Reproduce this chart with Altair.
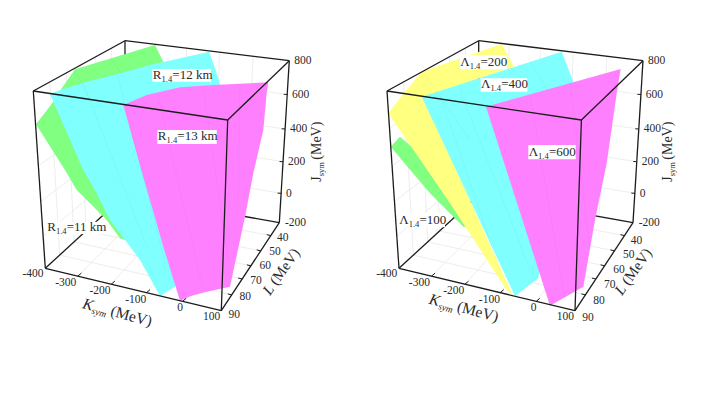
import math
import altair as alt
import pandas as pd

# --- picture-space corners of the 3D box (left panel); the right panel is the same box shifted
DX = 353.7
TB = (125, 40.7); TL = (33.3, 91); TF = (227.7, 120); TR = (289.3, 60.7)
BB = (125, 195); BL = (45.3, 268.3); BF = (221.3, 310.7); BR = (279.3, 222.7)

k_ticks = ["-400", "-300", "-200", "-100", "0", "100"]
k_frac = [0, 0.185, 0.375, 0.575, 0.78, 1]
k_label_x = [33, 65.7, 100, 135.7, 180, 211.7]
k_label_y = [273.5, 283, 291, 299.5, 308, 316.5]

l_ticks = ["40", "50", "60", "70", "80", "90"]
l_frac = [0.147, 0.32, 0.49, 0.64, 0.82, 1]
l_label_x = [282.7, 275, 265.3, 256, 245.3, 234.3]
l_label_y_left = [238.3, 252, 266.3, 281, 297.3, 315]
l_label_y_right = [240.7, 255, 269.7, 284.7, 301, 318.3]

j_ticks = ["800", "600", "400", "200", "0", "-200"]
j_tick_y = [60.7, 94.5, 129, 161.7, 193.3, 222.7]
j_label_x = [294.3, 292, 290, 288, 286, 285]

# --- bands
left_green = [(155, 45), (163.3, 61.7), (90, 100), (125, 240), (120, 238.3), (106.7, 220), (90, 203.3),
              (76.7, 190), (65, 170), (36, 124.3), (53.3, 101.7), (60, 90.7), (75, 69.3)]
left_cyan = [(209.3, 51.7), (220, 83.3), (175, 286.7), (160, 296), (140, 260), (110, 220), (96.7, 193.3),
             (83.3, 170), (50, 94), (60, 90), (86.7, 81.7), (113.3, 75), (150, 65)]
left_magenta = [(123.3, 105), (146.7, 95), (180, 87.3), (213.3, 85), (268.3, 82.3), (266.7, 93.3),
                (263.3, 130), (253.3, 173.3), (245, 216.7), (230, 286.7), (206.7, 291.7), (191.7, 295.7),
                (180, 300.7), (163.3, 246.7), (143.3, 176.7)]
right_green = [(400, 136.7), (390.7, 146.7), (430, 193.3), (463.3, 226.7), (483.3, 230), (450, 180)]
right_yellow = [(501.7, 44), (514, 66.7), (423.3, 96.7), (513.3, 296.7), (506.7, 290), (450, 203.3),
                (388.3, 113.3), (405, 91.7), (421.7, 71.7)]
right_cyan = [(561.7, 51.7), (573.3, 81.7), (538.3, 278.3), (515, 296), (421.7, 96.7)]
right_magenta = [(486, 106.7), (620.7, 69), (616.7, 93.3), (606.7, 163.3), (595, 220), (583.3, 286.7), (550, 305.7)]

bands = [(left_green, "#80ff80"), (left_cyan, "#80ffff"), (left_magenta, "#ff80ff"),
         (right_green, "#80ff80"), (right_yellow, "#ffff80"), (right_cyan, "#80ffff"), (right_magenta, "#ff80ff")]

# --- faint mesh lines on the bands: (x1, y1, x2, y2)
mesh = [(83, 83, 147, 247), (117, 73, 167, 270), (158, 95, 203, 290), (203, 86, 228, 260), (240, 84, 238, 220),
        (440, 95, 500, 270), (460, 90, 530, 270), (530, 95, 565, 300), (570, 82, 590, 250),
        (425, 75, 470, 140), (528, 58, 548, 90), (75, 70, 90, 100), (110, 58, 125, 78)]

# --- labels: (x, y, main, sub, tail); (x, y) is the baseline start
labels_left = [(152.8, 79, "R", "1.4", "=12 km"), (157.8, 140, "R", "1.4", "=13 km"), (47.2, 231, "R", "1.4", "=11 km")]
labels_right = [(460.3, 65.5, "Λ", "1.4", "=200"), (481, 88, "Λ", "1.4", "=400"), (528.7, 155.5, "Λ", "1.4", "=600"),
                (399.3, 223.5, "Λ", "1.4", "=100")]
label_boxes = [(152.3, 211, 69, 81.7), (157.3, 216.7, 130, 144), (46.7, 106, 221.7, 234),
               (460, 506.7, 55, 69.3), (480.7, 527.3, 78.3, 91.7), (528.3, 575.7, 145, 159.3), (399, 445, 212.7, 227.3)]


def lerp(a, b, t):
    return (a[0] + (b[0] - a[0]) * t, a[1] + (b[1] - a[1]) * t)


X = alt.X("x:Q", scale=alt.Scale(domain=[8, 698]), axis=None)
Y = alt.Y("y:Q", scale=alt.Scale(domain=[389, 8]), axis=None)


def seg_layer(segs, color, width, opacity=1.0):
    df = pd.DataFrame(segs, columns=["x", "y", "x2", "y2"])
    return alt.Chart(df).mark_rule(color=color, strokeWidth=width, opacity=opacity).encode(
        x=X, y=Y, x2="x2:Q", y2="y2:Q")


def panel_segments(dx):
    def S(a, b):
        return (a[0] + dx, a[1], b[0] + dx, b[1])
    grid = []
    j_frac = [(y - BR[1]) / (TR[1] - BR[1]) for y in j_tick_y]
    for t in k_frac[1:-1]:
        p = lerp(BB, BR, t)
        grid.append(S(lerp(BL, BF, t), p))
        grid.append(S(p, lerp(TB, TR, t)))
    for s in l_frac[:-1]:
        p = lerp(BB, BL, s)
        grid.append(S(lerp(BR, BF, s), p))
        grid.append(S(p, lerp(TB, TL, s)))
    for u in j_frac[1:-1]:
        p = lerp(BB, TB, u)
        grid.append(S(lerp(BR, TR, u), p))
        grid.append(S(p, lerp(BL, TL, u)))
    back = [S(BL, BB), S(BB, BR), S(BB, TB)]
    front = [S(TL, TB), S(TB, TR), S(TR, TF), S(TF, TL), S(TL, BL), S(TF, BF), S(TR, BR), S(BL, BF), S(BF, BR)]
    ticks = []
    for t in k_frac[1:-1]:
        p = lerp(BL, BF, t)
        ticks.append(S(p, (p[0] + 3.5, p[1] - 3)))
    for s in l_frac[:-1]:
        p = lerp(BR, BF, s)
        ticks.append(S(p, (p[0] - 4, p[1] - 1)))
    for u in j_frac[1:-1]:
        p = lerp(BR, TR, u)
        ticks.append(S(p, (p[0] - 3.5, p[1] - 0.2)))
    return grid, back, front, ticks


grid, back, front, ticks = [], [], [], []
for d in (0, DX):
    g, b, f, t = panel_segments(d)
    grid += g; back += b; front += f; ticks += t

layers = [seg_layer(grid, "#e9e9e9", 0.8), seg_layer(back, "#1c1c1c", 1.3)]

for i, (pts, col) in enumerate(bands):
    df = pd.DataFrame({"x": [p[0] for p in pts] + [pts[0][0]], "y": [p[1] for p in pts] + [pts[0][1]],
                       "o": list(range(len(pts) + 1))})
    layers.append(alt.Chart(df).mark_line(fill=col, strokeWidth=0, color=col).encode(
        x=X, y=Y, order="o:Q"))

layers.append(seg_layer(mesh, "#000000", 0.7, 0.05))
layers.append(seg_layer(front, "#1c1c1c", 1.3))
layers.append(seg_layer(ticks, "#1c1c1c", 1.0))

box_df = pd.DataFrame(label_boxes, columns=["x", "x2", "y", "y2"])
layers.append(alt.Chart(box_df).mark_rect(color="white").encode(x=X, x2="x2:Q", y=Y, y2="y2:Q"))

FONT = "Liberation Serif"
INK = "#2a2a2a"


def text_layer(rows, align="left", baseline="alphabetic", style="normal"):
    df = pd.DataFrame(rows, columns=["x", "y", "t", "s", "a"])
    return alt.Chart(df).mark_text(font=FONT, color=INK, align=align, baseline=baseline, fontStyle=style).encode(
        x=X, y=Y, text="t:N", size=alt.Size("s:Q", scale=None), angle=alt.Angle("a:Q", scale=None))


tick_center, tick_left = [], []
for d, l_y in ((0, l_label_y_left), (DX, l_label_y_right)):
    for i in range(6):
        tick_center.append((k_label_x[i] + d, k_label_y[i], k_ticks[i], 11.5, 0))
        tick_center.append((l_label_x[i] + d, l_y[i], l_ticks[i], 11.5, 0))
        tick_left.append((j_label_x[i] + d, j_tick_y[i] + 0.3, j_ticks[i], 11.5, 0))
layers.append(text_layer(tick_center, align="center", baseline="middle"))
layers.append(text_layer(tick_left, align="left", baseline="middle"))

normal, italic = [], []
for x, y, m, s, tail in labels_left + labels_right:
    w = 8.7 if m == "R" else 9.4
    normal.append((x, y, m, 13, 0))
    normal.append((x + w, y + 3, s, 8.5, 0))
    normal.append((x + w + 10.8, y, tail, 13, 0))

# axis titles: (x, y) of the baseline start, per panel
for (kx, ky), (lx, ly), (jx, jy) in (((81.7, 308), (270, 296), (320.7, 181.7)),
                                     ((428.3, 303.5), (622, 296), (671.7, 181.7))):
    ca, sa = math.cos(math.radians(15)), math.sin(math.radians(15))
    italic.append((kx, ky, "K", 15.5, 15))
    italic.append((kx + 10.5 * ca - 3 * sa, ky + 10.5 * sa + 3 * ca, "sym", 9.5, 15))
    normal.append((kx + 29 * ca, ky + 29 * sa, "(MeV)", 15.5, 15))
    ca, sa = math.cos(math.radians(55)), math.sin(math.radians(55))
    italic.append((lx, ly, "L", 15, 305))
    normal.append((lx + 12 * ca, ly - 12 * sa, "(MeV)", 15, 305))
    normal.append((jx, jy, "J", 14, 270))
    normal.append((jx + 3, jy - 5.5, "sym", 8.5, 270))
    normal.append((jx, jy - 22, "(MeV)", 14, 270))

layers.append(text_layer(normal))
layers.append(text_layer(italic, style="italic"))

chart = alt.layer(*layers).properties(
    width=690, height=381, padding=0, background="white", autosize=alt.AutoSizeParams(type="none")
).configure_view(stroke=None)

chart.save("out.html", embed_options={"renderer": "svg", "actions": False})
